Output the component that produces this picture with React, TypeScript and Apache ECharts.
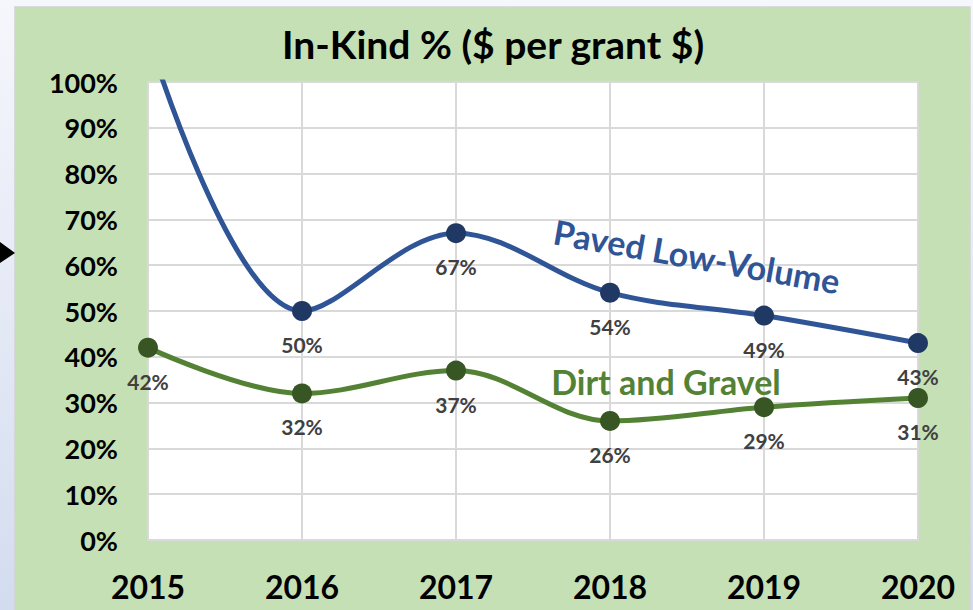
import React, { useEffect, useRef } from "react";
import * as echarts from "echarts";

const years = ["2015", "2016", "2017", "2018", "2019", "2020"];
const pavedLowVolume = [1.1, 0.5, 0.67, 0.54, 0.49, 0.43];
const dirtAndGravel = [0.42, 0.32, 0.37, 0.26, 0.29, 0.31];
const yTicks = { min: 0, max: 1, interval: 0.1 };

const FONT = "Lato, 'Open Sans', sans-serif";

const pct = (v: number) => Math.round(v * 100) + "%";

export default function App() {
  const ref = useRef<HTMLDivElement>(null);
  useEffect(() => {
    if (!ref.current) return;
    const chart = echarts.init(ref.current, undefined, { renderer: "svg" });
    const labelStyle = {
      show: true,
      position: "bottom" as const,
      distance: 13,
      color: "#404040",
      fontFamily: FONT,
      fontWeight: "bold" as const,
      fontSize: 21,
      formatter: (p: any) => pct(p.value),
    };
    const gridLine = { color: "#d9d9d9", width: 2 };
    chart.setOption({
      animation: false,
      backgroundColor: {
        type: "linear",
        x: 0,
        y: 0,
        x2: 0,
        y2: 1,
        colorStops: [
          { offset: 0, color: "#f6f7fc" },
          { offset: 1, color: "#d3dcef" },
        ],
      },
      graphic: [
        {
          type: "rect",
          z: -10,
          shape: { x: 15, y: 7, width: 955, height: 620 },
          style: { fill: "#c5e0b4", stroke: "#d2d2d2", lineWidth: 1.5 },
        },
        {
          type: "polygon",
          z: -5,
          shape: { points: [[0, 242], [15, 253], [0, 263]] },
          style: { fill: "#000000" },
        },
        {
          type: "text",
          x: 493,
          y: 44,
          style: {
            text: "In-Kind % ($ per grant $)",
            fill: "#000000",
            font: `bold 39px ${FONT}`,
            align: "center",
            verticalAlign: "middle",
          },
        },
        {
          type: "text",
          x: 697,
          y: 256,
          rotation: (-10 * Math.PI) / 180,
          z: 10,
          style: {
            text: "Paved Low-Volume",
            fill: "#2f5597",
            font: `bold 34px ${FONT}`,
            align: "center",
            verticalAlign: "middle",
          },
        },
        {
          type: "text",
          x: 666,
          y: 381,
          z: 10,
          style: {
            text: "Dirt and Gravel",
            fill: "#548235",
            font: `bold 34px ${FONT}`,
            align: "center",
            verticalAlign: "middle",
          },
        },
      ],
      grid: {
        left: 148,
        top: 82,
        width: 770,
        height: 458,
        show: true,
        backgroundColor: "#ffffff",
        borderColor: "#d9d9d9",
        borderWidth: 2,
      },
      xAxis: {
        type: "category",
        data: years,
        boundaryGap: false,
        axisLine: { show: true, lineStyle: gridLine },
        axisTick: { show: false },
        splitLine: { show: true, lineStyle: gridLine },
        axisLabel: {
          color: "#000000",
          fontFamily: FONT,
          fontWeight: "bold",
          fontSize: 32,
          margin: 30,
        },
      },
      yAxis: {
        type: "value",
        min: yTicks.min,
        max: yTicks.max,
        interval: yTicks.interval,
        axisLine: { show: true, lineStyle: gridLine },
        axisTick: { show: false },
        splitLine: { show: true, lineStyle: gridLine },
        axisLabel: {
          color: "#000000",
          fontFamily: FONT,
          fontWeight: "bold",
          fontSize: 27,
          margin: 30,
          formatter: (v: number) => pct(v),
        },
      },
      series: [
        {
          name: "Dirt and Gravel",
          type: "line",
          data: dirtAndGravel,
          smooth: 0.35,
          symbol: "circle",
          symbolSize: 20,
          lineStyle: { color: "#548235", width: 5 },
          itemStyle: { color: "#375623" },
          label: labelStyle,
        },
        {
          name: "Paved Low-Volume",
          type: "line",
          data: pavedLowVolume.map((v) =>
            v > yTicks.max ? { value: v, label: { show: false } } : v
          ),
          smooth: 0.35,
          symbol: "circle",
          symbolSize: 20,
          clip: true,
          lineStyle: { color: "#2f5597", width: 5 },
          itemStyle: { color: "#203864" },
          label: labelStyle,
        },
      ],
    });
    return () => chart.dispose();
  }, []);
  return (
    <div
      ref={ref}
      style={{ position: "absolute", left: 0, top: 0, width: 973, height: 610 }}
    />
  );
}
